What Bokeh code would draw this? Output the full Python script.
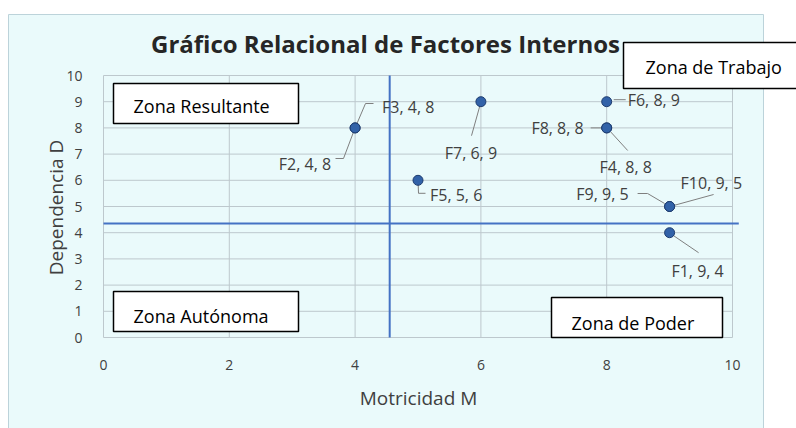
import math
from bokeh.plotting import figure
from bokeh.models import (ColumnDataSource, LabelSet, Label, BoxAnnotation,
                          FixedTicker, Range1d)
from bokeh.core.properties import value
from bokeh.embed import file_html
from bokeh.resources import INLINE

# ---- data ----
names = ["F1", "F2", "F3", "F4", "F5", "F6", "F7", "F8", "F9", "F10"]
motricidad = [9, 4, 4, 8, 5, 8, 6, 8, 9, 9]
dependencia = [4, 8, 8, 8, 6, 9, 9, 8, 5, 5]
x_ticks = [0, 2, 4, 6, 8, 10]
y_ticks = [0, 1, 2, 3, 4, 5, 6, 7, 8, 9, 10]
x_cut = 4.55
y_cut = 4.35
title_text = "Gráfico Relacional de Factores Internos"
x_label = "Motricidad M"
y_label = "Dependencia D"
zones = ["Zona Resultante", "Zona de Trabajo", "Zona Autónoma", "Zona de Poder"]

# ---- layout ----
W, H = 796, 428
X0_PX, Y0_PX = 103, 337   # pixel position of data origin
PX_X = 62.9    # pixels per x unit
PX_Y = 26.2    # pixels per y unit
FONT = "Open Sans"
CYAN = "#EAFAFB"
EDGE = "#BCD3DA"
GRID = "#BDC8CD"


def dx_px(px):
    return (px - X0_PX) / PX_X


def dy_px(py):
    return (Y0_PX - py) / PX_Y


p = figure(width=W, height=H,
           x_range=Range1d(dx_px(0), dx_px(W)), y_range=Range1d(dy_px(H), dy_px(0)),
           output_backend="svg", toolbar_location=None,
           min_border_left=0, min_border_right=0,
           min_border_top=0, min_border_bottom=0)
p.border_fill_color = "white"
p.background_fill_color = "white"
p.outline_line_color = None

# chart area background
p.add_layout(BoxAnnotation(left=dx_px(8), right=dx_px(763), bottom=dy_px(H + 20), top=dy_px(14),
                           fill_color=CYAN, fill_alpha=1, line_color=EDGE, line_alpha=1,
                           line_width=1, level="image"))

for ax in (p.xaxis, p.yaxis):
    ax.fixed_location = 0
    ax.bounds = (0, 10)
    ax.axis_line_color = None
    ax.major_tick_line_color = None
    ax.minor_tick_line_color = None
    ax.major_label_text_font = FONT
    ax.major_label_text_font_size = "14px"
    ax.major_label_text_color = "#404040"

p.xaxis.ticker = FixedTicker(ticks=x_ticks)
p.yaxis.ticker = FixedTicker(ticks=y_ticks)
p.xaxis.major_label_standoff = 16
p.yaxis.major_label_standoff = 15
p.grid.visible = False

# axis titles
p.add_layout(Label(x=dx_px(418), y=dy_px(397), text=x_label, text_font=FONT,
                   text_font_size="19px", text_color="#404040",
                   text_align="center", text_baseline="middle"))
p.add_layout(Label(x=dx_px(55), y=dy_px(207), text=y_label, text_font=FONT,
                   text_font_size="19px", text_color="#404040", angle=math.pi / 2,
                   text_align="center", text_baseline="middle"))

# grid lines within the 0..10 plot region
p.segment(x0=x_ticks, y0=[0] * len(x_ticks), x1=x_ticks, y1=[10] * len(x_ticks),
          line_color=GRID, line_width=1)
p.segment(x0=[0] * len(y_ticks), y0=y_ticks, x1=[10] * len(y_ticks), y1=y_ticks,
          line_color=GRID, line_width=1)

# quadrant lines
p.line([x_cut, x_cut], [0, 10], line_color="#4472C4", line_width=2)
p.line([0, 10.1], [y_cut, y_cut], line_color="#4472C4", line_width=2)

# zone boxes (pixel positions of the reference converted to data)
zone_boxes = [
    (113, 298, 83, 123, 133, 105),
    (623, 820, 42, 88, 645, 66),
    (113, 298, 291, 331, 133, 315),
    (551, 722, 297, 337, 571, 322),
]
for txt, (l, r, t, b, tx, ty) in zip(zones, zone_boxes):
    p.add_layout(BoxAnnotation(left=dx_px(l), right=dx_px(r), top=dy_px(t), bottom=dy_px(b),
                               fill_color="white", fill_alpha=1,
                               line_color="black", line_alpha=1, line_width=1.5, level="overlay"))
    p.add_layout(Label(x=dx_px(tx), y=dy_px(ty), text=txt, text_font=FONT,
                       text_font_size="18px", text_color="black",
                       text_align="left", text_baseline="middle", level="overlay"))

# leader lines and labels: offsets in screen pixels (right, up)
label_dx = [28, -24, 27, 19, 12, 21, -10, -23, -41, 11]
label_dy = [-38, -36, 21, -39, -15, 2, -51, 0, 13, 24]
label_align = ["center", "right", "left", "center", "left", "left", "center", "right", "right", "left"]
leaders = [
    [(4, -3), (29, -20)],
    [(0, 0), (-11.6, -30.6), (-19.6, -30.6)],
    [(0, 0), (10.4, 24.4), (18.4, 24.4)],
    [(4, -4), (21, -22.6)],
    [(0, 0), (0.5, -13), (7.5, -13)],
    [(7, 2), (19, 2)],
    [(-1, -4), (-9.4, -34)],
    [(-16, 0), (-4, 0)],
    [(-32, 13), (-22, 13), (-5, 3)],
    [(4, 1), (44, 12)],
]
lx, ly = [], []
for xm, ym, pts in zip(motricidad, dependencia, leaders):
    lx.append([xm + dx / PX_X for dx, dy in pts])
    ly.append([ym + dy / PX_Y for dx, dy in pts])
p.multi_line(lx, ly, line_color="#7F7F7F", line_width=1)

src = ColumnDataSource(dict(
    x=motricidad, y=dependencia,
    text=[f"{n}, {a}, {b}" for n, a, b in zip(names, motricidad, dependencia)],
    dx=label_dx, dy=label_dy, align=label_align))

p.scatter("x", "y", source=src, size=10, fill_color="#3262A8", line_color="#1E3C6E", line_width=1)

p.add_layout(LabelSet(x="x", y="y", text="text", source=src, x_offset="dx", y_offset="dy",
                      text_align="align", text_baseline="middle",
                      text_font=value(FONT), text_font_size="16px", text_color="#404040"))

# title
p.add_layout(Label(x=dx_px(385), y=dy_px(43), text=title_text,
                   text_font=FONT, text_font_size="24px", text_font_style="bold",
                   text_color="#262626", text_align="center", text_baseline="middle"))

open("out.html", "w").write(file_html(p, INLINE))
